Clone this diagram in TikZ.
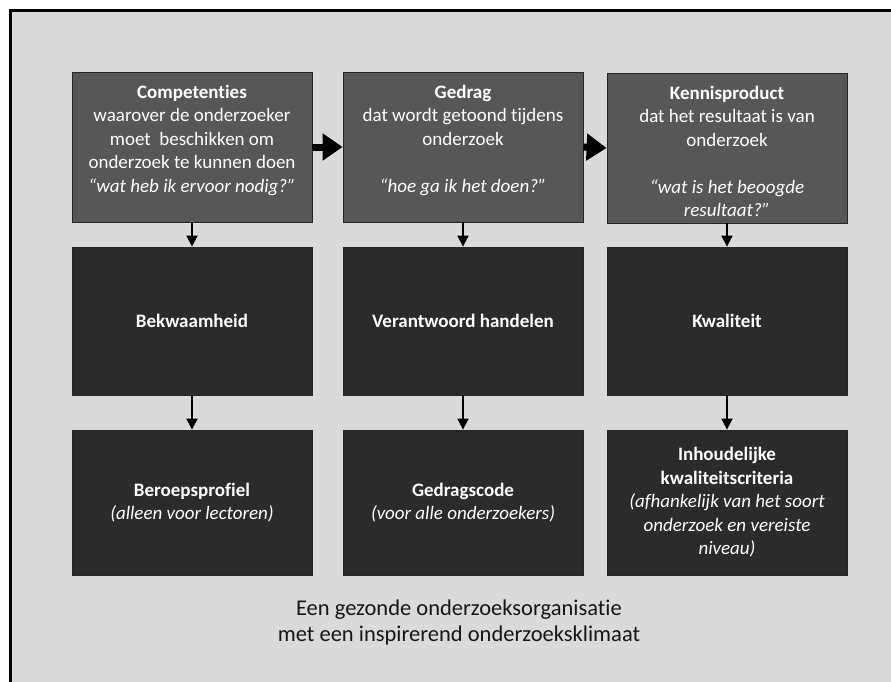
\documentclass[tikz,border=0pt]{standalone}
\usepackage{fontspec}
\setmainfont{Carlito}[Ligatures={TeX,NoCommon}]
\usetikzlibrary{arrows.meta}
\definecolor{bggray}{HTML}{DADADA}
\definecolor{topgray}{HTML}{575757}
\definecolor{darkgray}{HTML}{2B2B2B}
\definecolor{foottext}{HTML}{161616}
\begin{document}
\begin{tikzpicture}[x=1pt,y=-1pt,
  boxbase/.style={draw=black!85, line width=0.8pt, minimum width=240pt, inner sep=0pt,
    text=white, align=center, font=\fontsize{19}{23.5}\selectfont},
  topbox/.style={boxbase, fill=topgray, minimum height=150pt},
  midbox/.style={boxbase, fill=darkgray, minimum height=148pt},
  lowbox/.style={boxbase, fill=darkgray, minimum height=145pt},
  toptext/.style={anchor=north, inner sep=0pt, text=white, align=center,
    font=\fontsize{19}{23.5}\selectfont},
  bigarrow/.style={line width=7pt, -{Triangle[length=20pt,width=26pt]}},
  downarrow/.style={line width=1.8pt, -{Triangle[length=11pt,width=11pt]}},
  foot/.style={align=center, text=foottext, font=\fontsize{22.5}{26}\selectfont}
]
\useasboundingbox (0,0) rectangle (891,682);
\fill[white] (0,0) rectangle (891,682);
\fill[bggray] (10,11) rectangle (891,682);
\draw[line width=3pt] (10,682) -- (10,11) -- (891,11);

% row 1
\node[topbox] (c1) at (192,147) {};
\node[topbox] (c2) at (463,147) {};
\node[topbox] (c3) at (727,148) {};
\node[toptext] (c1t) at ([yshift=-13pt]c1.north)
  {\textbf{Competenties}\\waarover de onderzoeker\\moet\ \ beschikken om\\onderzoek te kunnen doen\\\textit{“wat heb ik ervoor nodig?”}};
\node[toptext] (c2t) at ([yshift=-13pt]c2.north)
  {\textbf{Gedrag}\\dat wordt getoond tijdens\\onderzoek\\[23.5pt]\textit{“hoe ga ik het doen?”}};
\node[toptext] (c3t) at ([yshift=-13pt]c3.north)
  {\textbf{Kennisproduct}\\dat het resultaat is van\\onderzoek\\[23.5pt]\textit{“wat is het beoogde}\\\textit{resultaat?”}};

% row 2
\node[midbox] (b1) at (192,321) {\textbf{Bekwaamheid}};
\node[midbox] (b2) at (463,321) {\textbf{Verantwoord handelen}};
\node[midbox] (b3) at (727,321) {\textbf{Kwaliteit}};

% row 3
\node[lowbox] (d1) at (192,502.5) {\textbf{Beroepsprofiel}\\\textit{(alleen voor lectoren)}};
\node[lowbox] (d2) at (463,502.5) {\textbf{Gedragscode}\\\textit{(voor alle onderzoekers)}};
\node[lowbox] (d3) at (727,502.5) {\textbf{Inhoudelijke}\\\textbf{kwaliteitscriteria}\\\textit{(afhankelijk van het soort}\\\textit{onderzoek en vereiste}\\\textit{niveau)}};

% arrows
\draw[bigarrow] (c1.east) -- (c2.west);
\draw[bigarrow] (c2.east) -- (c3.west);
\foreach \a/\b in {c1/b1,c2/b2,c3/b3,b1/d1,b2/d2,b3/d3}
  \draw[downarrow] (\a.south) -- (\b.north);

% footer
\node[foot] (footer) at (459,622) {Een gezonde onderzoeksorganisatie\\met een inspirerend onderzoeksklimaat};
\end{tikzpicture}
\end{document}
